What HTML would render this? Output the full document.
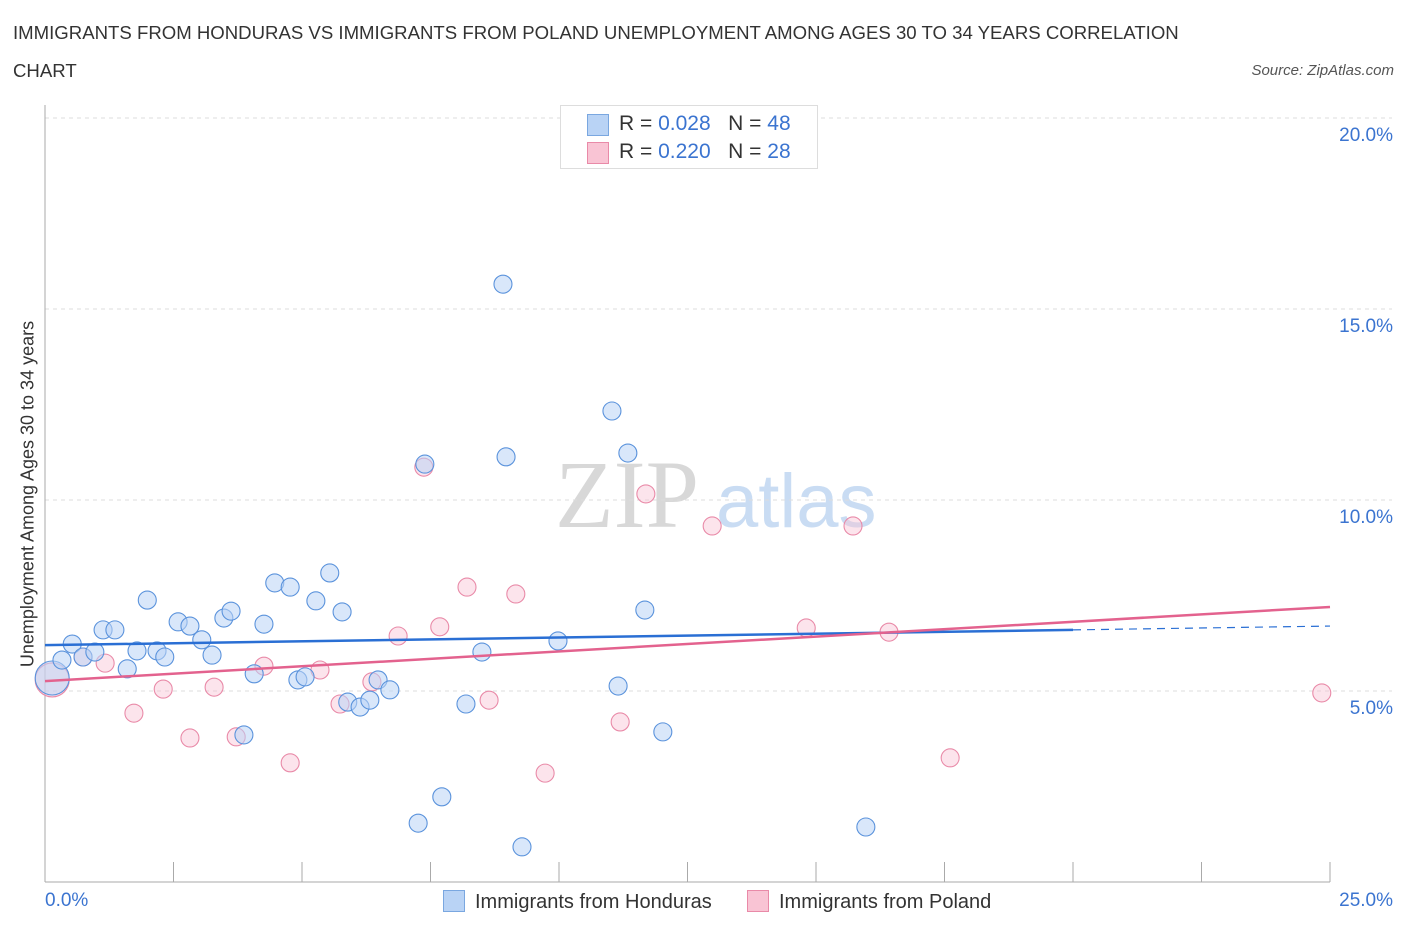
<!DOCTYPE html>
<html><head><meta charset="utf-8">
<style>
body{margin:0;background:#fff;font-family:"Liberation Sans",sans-serif;}
#wrap{position:relative;width:1406px;height:930px;overflow:hidden;}
.t{position:absolute;white-space:nowrap;}
</style></head>
<body>
<div id="wrap">
<div class="t" style="left:13px;top:14px;font-size:18.6px;color:#333;line-height:38px;width:1195px;white-space:normal">IMMIGRANTS FROM HONDURAS VS IMMIGRANTS FROM POLAND UNEMPLOYMENT AMONG AGES 30 TO 34 YEARS CORRELATION CHART</div>
<div class="t" style="right:12px;top:62px;font-size:15px;color:#555;font-style:italic">Source: ZipAtlas.com</div>
<svg id="svg" width="1406" height="930" style="position:absolute;left:0;top:0"></svg>
</div>
<script>
const yTicks=[5,10,15,20];
const yTickLabels=["5.0%","10.0%","15.0%","20.0%"];
const hondX=[0.14,0.33,0.53,0.74,0.97,1.13,1.36,1.60,1.79,1.99,2.18,2.33,2.59,2.82,3.05,3.25,3.48,3.62,3.87,4.07,4.26,4.47,4.77,4.92,5.06,5.27,5.54,5.78,5.89,6.13,6.32,6.48,6.71,7.26,7.39,7.72,8.19,8.50,8.91,8.97,9.28,9.98,11.03,11.15,11.34,11.67,12.02,15.97];
const hondY=[5.34,5.81,6.23,5.89,6.02,6.60,6.60,5.58,6.05,7.38,6.05,5.89,6.81,6.70,6.34,5.94,6.91,7.09,3.85,5.45,6.75,7.83,7.72,5.29,5.37,7.36,8.09,7.07,4.71,4.58,4.76,5.29,5.03,1.54,10.94,2.23,4.66,6.02,15.65,11.13,0.92,6.31,12.33,5.13,11.23,7.12,3.93,1.44];
const polX=[0.14,0.74,1.17,1.73,2.30,2.82,3.29,3.72,4.26,4.77,5.35,5.74,6.36,6.87,7.37,7.68,8.21,8.64,9.16,9.73,11.19,11.69,12.98,14.81,15.72,16.42,17.61,24.84];
const polY=[5.29,5.89,5.73,4.42,5.05,3.77,5.10,3.80,5.65,3.12,5.55,4.66,5.24,6.44,10.86,6.68,7.72,4.76,7.54,2.85,4.19,10.16,9.32,6.65,9.32,6.54,3.25,4.95];
const hondLine=[[0,6.20],[20,6.60],[25,6.70]];
const polLine=[[0,5.26],[25,7.20]];
const X=v=>45+v/25*1285, Y=v=>882-v*38.2;
const svg=document.getElementById('svg');
const NS='http://www.w3.org/2000/svg';
function mk(tag,a,parent){const e=document.createElementNS(NS,tag);for(const k in a)e.setAttribute(k,a[k]);(parent||svg).appendChild(e);return e;}
let w=mk('text',{x:555,y:527,'font-family':'Liberation Serif,serif','font-size':96,fill:'#d8d8d8'});w.textContent='ZIP';

w=mk('text',{x:716,y:527,'font-family':'Liberation Sans,sans-serif','font-size':76,fill:'#c9dcf3'});w.textContent='atlas';

yTicks.forEach((t,i)=>{
 const g=mk('line',{x1:45,x2:1392,y1:Y(t),y2:Y(t),stroke:'#ddd','stroke-dasharray':'4,4'});
 
 const l=mk('text',{x:1393,y:Y(t)+23,'text-anchor':'end','font-size':19,fill:'#3b74d0','font-family':'Liberation Sans,sans-serif'});
 l.textContent=yTickLabels[i];
});
let ax=mk('line',{x1:45,x2:45,y1:105,y2:882,stroke:'#aaa'});
ax=mk('line',{x1:45,x2:1330,y1:882,y2:882,stroke:'#aaa'});
for(let i=0;i<=10;i++){const t=mk('line',{x1:X(i*2.5),x2:X(i*2.5),y1:862,y2:882,stroke:'#aaa'});}
function dots(xs,ys,fill,stroke,name,op){xs.forEach((x,i)=>{const r=i==0?17:9;
 const c=mk('circle',{cx:X(x),cy:Y(ys[i]),r:r,fill:fill,'fill-opacity':op,stroke:stroke,'stroke-width':1.1});
 });}
dots(polX,polY,'#f9c4d4','#e98aa8','poland-point',0.45);
dots(hondX,hondY,'#b9d3f5','#5b93dc','honduras-point',0.55);
let ln=mk('line',{x1:X(hondLine[0][0]),y1:Y(hondLine[0][1]),x2:X(hondLine[1][0]),y2:Y(hondLine[1][1]),stroke:'#2a6fd4','stroke-width':2.5});

ln=mk('line',{x1:X(hondLine[1][0]),y1:Y(hondLine[1][1]),x2:X(hondLine[2][0]),y2:Y(hondLine[2][1]),stroke:'#2a6fd4','stroke-width':1.2,'stroke-dasharray':'8,6'});

ln=mk('line',{x1:X(polLine[0][0]),y1:Y(polLine[0][1]),x2:X(polLine[1][0]),y2:Y(polLine[1][1]),stroke:'#e3628e','stroke-width':2.5});

</script>
<div class="t" style="left:28px;top:494px;font-size:18px;color:#333;transform:translate(-50%,-50%) rotate(-90deg)">Unemployment Among Ages 30 to 34 years</div>
<div class="t" style="left:45px;top:890px;font-size:19px;color:#3b74d0">0.0%</div>
<div class="t" style="right:13px;top:890px;font-size:19px;color:#3b74d0">25.0%</div>
<div style="position:absolute;left:560px;top:105px;width:256px;height:62px;border:1px solid #ddd;background:#fff;font-size:21px;color:#333">
 <div style="position:absolute;left:26px;top:8px;width:20px;height:20px;background:#b9d3f5;border:1px solid #7aa7e0"></div>
 <div class="t" style="left:58px;top:6px">R = <span style="color:#3b74d0">0.028</span>&nbsp;&nbsp;&nbsp;N = <span style="color:#3b74d0">48</span></div>
 <div style="position:absolute;left:26px;top:36px;width:20px;height:20px;background:#f9c4d4;border:1px solid #e98aa8"></div>
 <div class="t" style="left:58px;top:34px">R = <span style="color:#3b74d0">0.220</span>&nbsp;&nbsp;&nbsp;N = <span style="color:#3b74d0">28</span></div>
</div>
<div style="position:absolute;left:443px;top:890px;font-size:20px;color:#333">
 <span style="display:inline-block;width:20px;height:20px;background:#b9d3f5;border:1px solid #7aa7e0;vertical-align:-4px;margin-right:10px"></span>Immigrants from Honduras</div>
<div style="position:absolute;left:747px;top:890px;font-size:20px;color:#333">
 <span style="display:inline-block;width:20px;height:20px;background:#f9c4d4;border:1px solid #e98aa8;vertical-align:-4px;margin-right:10px"></span>Immigrants from Poland</div>
</body></html>
